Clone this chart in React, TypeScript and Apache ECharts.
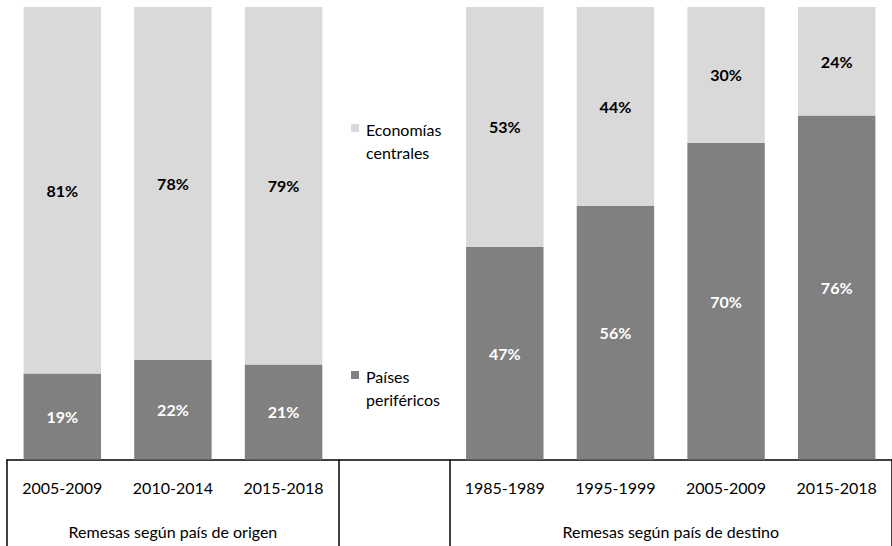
import React, { useEffect, useRef } from "react";
import * as echarts from "echarts";

const categories = ["2005-2009", "2010-2014", "2015-2018", "", "1985-1989", "1995-1999", "2005-2009", "2015-2018"];
const groupLabels = ["Remesas según país de origen", "Remesas según país de destino"];
const perifericos = [19, 22, 21, null, 47, 56, 70, 76];
const centrales = [81, 78, 79, null, 53, 44, 30, 24];
const seriesNames = ["Países periféricos", "Economías centrales"];
const seriesColors = ["#808080", "#D9D9D9"];
const legendLines = [["Países", "periféricos"], ["Economías", "centrales"]];

const FONT = "Lato, 'Noto Sans', sans-serif";

export default function App() {
  const ref = useRef<HTMLDivElement>(null);
  useEffect(() => {
    document.body.style.margin = "0";
    const chart = echarts.init(ref.current!, null, { renderer: "svg" });
    const legendItem = (idx: number, top: number) => ({
      type: "group",
      left: 351,
      top,
      children: [
        {
          type: "rect",
          shape: { x: 0, y: 6, width: 8, height: 8 },
          style: { fill: seriesColors[idx] },
        },
        {
          type: "text",
          x: 15,
          y: 0,
          style: {
            text: legendLines[idx].join("\n"),
            fontFamily: FONT,
            fontSize: 16,
            lineHeight: 23,
            fill: "#000",
            verticalAlign: "top",
          },
        },
      ],
    });
    chart.setOption({
      animation: false,
      textStyle: { fontFamily: FONT },
      grid: { left: 7, top: 7, width: 889, height: 452.5 },
      graphic: [legendItem(1, 118), legendItem(0, 365)],
      xAxis: [
        {
          type: "category",
          data: categories,
          position: "bottom",
          axisLine: { show: true, lineStyle: { color: "#000", width: 1.5 } },
          axisTick: {
            show: true,
            length: 90,
            interval: (index: number) => index === 0 || index === 3 || index === 4,
            lineStyle: { color: "#000", width: 1.5 },
          },
          axisLabel: {
            interval: 0,
            margin: 20,
            fontFamily: FONT,
            fontSize: 16,
            color: "#000",
          },
        },
        {
          type: "value",
          min: 0,
          max: 8,
          interval: 0.5,
          position: "bottom",
          axisLine: { show: false },
          axisTick: { show: false },
          splitLine: { show: false },
          axisLabel: {
            margin: 64,
            fontFamily: FONT,
            fontSize: 16,
            color: "#000",
            showMinLabel: false,
            showMaxLabel: false,
            formatter: (v: number) => (v === 1.5 ? groupLabels[0] : v === 6 ? groupLabels[1] : ""),
          },
        },
      ],
      yAxis: { type: "value", min: 0, max: 100, show: false },
      series: [
        {
          name: seriesNames[0],
          type: "bar",
          stack: "total",
          barCategoryGap: "30%",
          data: perifericos.map((v) => (v == null ? "-" : v)),
          itemStyle: { color: seriesColors[0] },
          label: {
            show: true,
            position: "inside",
            formatter: "{c}%",
            color: "#fff",
            fontWeight: "bold",
            fontSize: 16,
            fontFamily: FONT,
          },
        },
        {
          name: seriesNames[1],
          type: "bar",
          stack: "total",
          barCategoryGap: "30%",
          data: centrales.map((v) => (v == null ? "-" : v)),
          itemStyle: { color: seriesColors[1] },
          label: {
            show: true,
            position: "inside",
            formatter: "{c}%",
            color: "#000",
            fontWeight: "bold",
            fontSize: 16,
            fontFamily: FONT,
          },
        },
      ],
    });
    return () => chart.dispose();
  }, []);
  return <div ref={ref} style={{ width: 892, height: 546 }} />;
}
